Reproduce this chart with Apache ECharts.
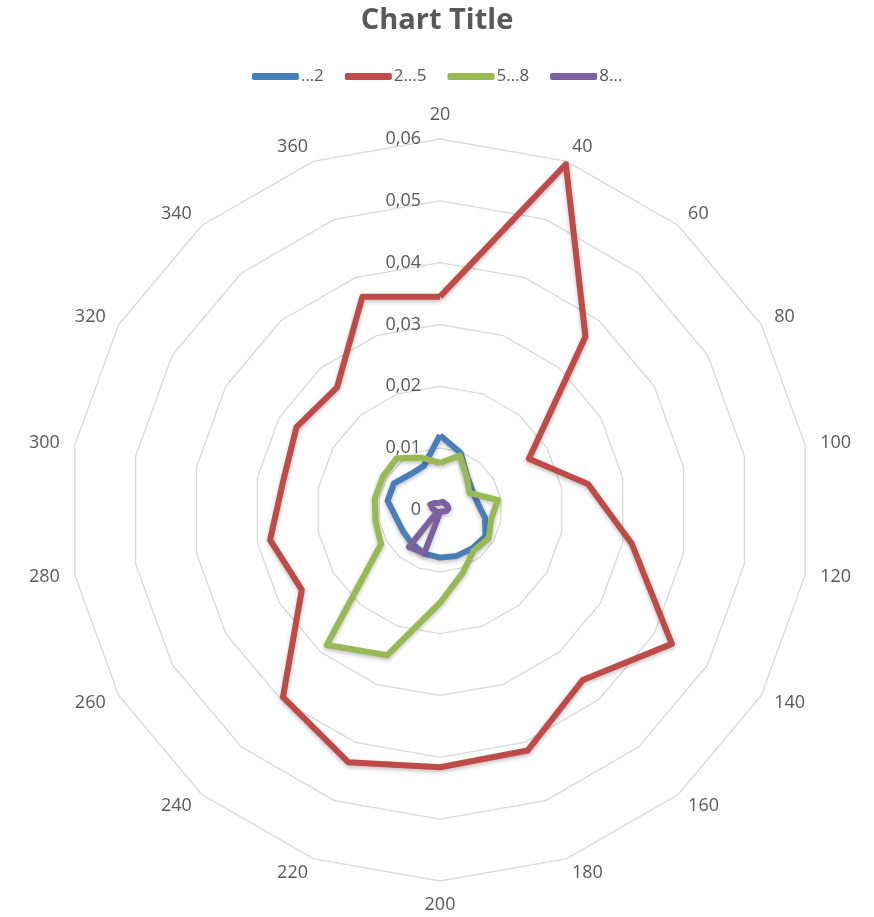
<!DOCTYPE html>
<html>
<head>
<meta charset="utf-8">
<script src="https://cdn.jsdelivr.net/npm/echarts@6/dist/echarts.min.js"></script>
<style>
  html, body { margin: 0; padding: 0; background: #fff; }
  #chart { width: 874px; height: 917px; }
</style>
</head>
<body>
<div id="chart"></div>
<script>
// Direction categories (clockwise from the top)
const categories = ['20', '40', '60', '80', '100', '120', '140', '160', '180',
  '200', '220', '240', '260', '280', '300', '320', '340', '360'];

const seriesNames = ['…2', '2…5', '5…8', '8…'];

const valuesUpTo2 = [0.0121, 0.0098, 0.0069, 0.0061, 0.0062, 0.0074, 0.0085, 0.0081, 0.0079,
  0.0077, 0.0075, 0.0071, 0.0069, 0.0072, 0.0086, 0.0086, 0.0075, 0.0076];

const values2to5 = [0.0345, 0.0595, 0.0366, 0.0166, 0.0243, 0.0315, 0.0433, 0.0359, 0.0414,
  0.0416, 0.0434, 0.0395, 0.0258, 0.0279, 0.0258, 0.0268, 0.0259, 0.0367];

const values5to8 = [0.0076, 0.0094, 0.0068, 0.0055, 0.0095, 0.0084, 0.0091, 0.0085, 0.0108,
  0.0150, 0.0250, 0.0285, 0.0110, 0.0106, 0.0107, 0.0107, 0.0109, 0.0090];

const values8up = [0.0012, 0.0014, 0.0013, 0.0014, 0.0014, 0.0010, 0.0005, 0.0003, 0.0003,
  0.0004, 0.0074, 0.0078, 0.0005, 0.0008, 0.0012, 0.0018, 0.0015, 0.0012];

const tickLabels = ['0', '0,01', '0,02', '0,03', '0,04', '0,05', '0,06'];
const axisMax = 0.06;

const colors = ['#4A7EBB', '#BE4B48', '#98B954', '#7D60A0'];

// ECharts lays radar axes out counter-clockwise; reorder so the
// categories run clockwise starting at the top.
const order = [0].concat(categories.slice(1).map((_, i) => categories.length - 1 - i));
const reorder = arr => order.map(i => arr[i]);

const textColor = '#595959';
const fontFamily = "'Open Sans', 'Liberation Sans', sans-serif";

const indicator = reorder(categories).map((name, k) => {
  const item = { name: name, min: 0, max: axisMax };
  if (k === 0) {
    // value scale is printed along the upward axis only
    item.axisLabel = {
      show: true,
      color: textColor,
      fontSize: 18,
      fontFamily: fontFamily,
      margin: 19,
      padding: [6, 0, 0, 0],
      formatter: v => tickLabels[Math.round(v / 0.01)]
    };
  }
  return item;
});

const allValues = [valuesUpTo2, values2to5, values5to8, values8up];

const chart = echarts.init(document.getElementById('chart'), null, { renderer: 'canvas' });
chart.setOption({
  backgroundColor: '#ffffff',
  animation: false,
  title: {
    text: 'Chart Title',
    left: 'center',
    top: 1,
    textStyle: { color: textColor, fontSize: 29, fontWeight: 'bold', fontFamily: fontFamily }
  },
  legend: {
    top: 63,
    left: 'center',
    itemWidth: 47,
    itemHeight: 7,
    itemGap: 21,
    icon: 'roundRect',
    textStyle: { color: textColor, fontSize: 17, fontFamily: fontFamily, padding: [0, 0, 0, -3] },
    data: seriesNames
  },
  radar: {
    center: [440, 510],
    radius: 371,
    startAngle: 90,
    shape: 'polygon',
    splitNumber: 6,
    nameGap: 15,
    indicator: indicator,
    axisName: { color: textColor, fontSize: 18, fontFamily: fontFamily },
    axisLine: { show: false },
    axisTick: { show: false },
    axisLabel: { show: false },
    splitLine: { lineStyle: { color: '#D9D9D9', width: 1.3 } },
    splitArea: { show: false }
  },
  series: [{
    type: 'radar',
    symbol: 'none',
    data: allValues.map((vals, s) => ({
      name: seriesNames[s],
      value: reorder(vals),
      lineStyle: {
        color: colors[s],
        width: 6,
        join: 'round',
        shadowColor: 'rgba(0,0,0,0.25)',
        shadowBlur: 4,
        shadowOffsetY: 2
      },
      itemStyle: { color: colors[s] }
    }))
  }]
});
</script>
</body>
</html>
